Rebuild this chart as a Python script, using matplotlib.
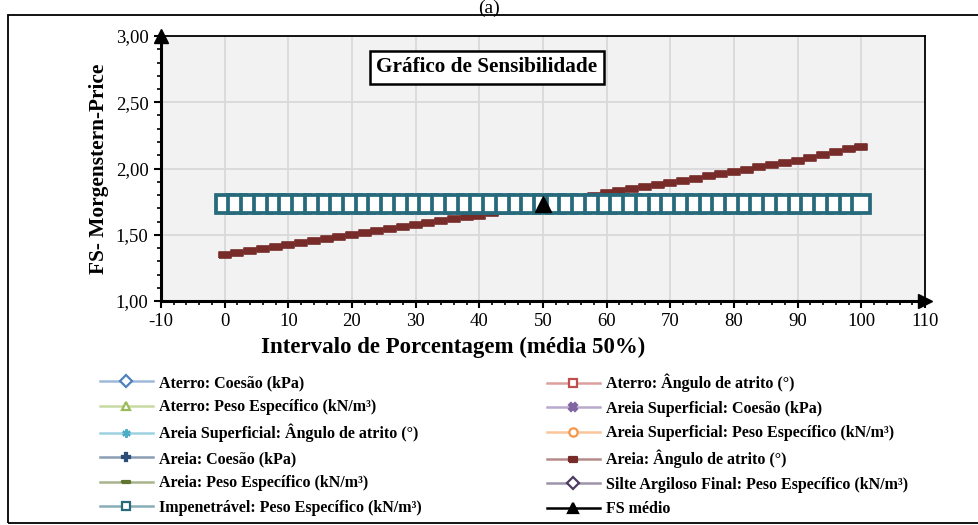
import matplotlib
matplotlib.use('Agg')
import matplotlib.pyplot as plt
from matplotlib.lines import Line2D
from matplotlib.patches import Rectangle

plt.rcParams['font.family'] = ['Liberation Serif', 'DejaVu Serif']
plt.rcParams['axes.unicode_minus'] = False

# x values: percentage interval, one point every 2 %
pct = list(range(0, 101, 2))

# FS for each parameter (most of them stay at the mean FS = 1,73)
aterro_coesao = [1.73] * 51
aterro_atrito = [1.73] * 51
aterro_peso = [1.73] * 51
areia_sup_coesao = [1.73] * 51
areia_sup_atrito = [1.685, 1.687, 1.689, 1.690, 1.692, 1.694, 1.696, 1.698, 1.699, 1.701,
                    1.703, 1.705, 1.707, 1.708, 1.710, 1.712, 1.714, 1.716, 1.717, 1.719,
                    1.721, 1.723, 1.725, 1.726, 1.728, 1.730, 1.732, 1.734, 1.735, 1.737,
                    1.739, 1.741, 1.743, 1.744, 1.746, 1.748, 1.750, 1.752, 1.753, 1.755,
                    1.757, 1.759, 1.761, 1.762, 1.764, 1.766, 1.768, 1.770, 1.771, 1.773,
                    1.775]
areia_sup_peso = [1.775, 1.773, 1.771, 1.770, 1.768, 1.766, 1.764, 1.762, 1.761, 1.759,
                  1.757, 1.755, 1.753, 1.752, 1.750, 1.748, 1.746, 1.744, 1.743, 1.741,
                  1.739, 1.737, 1.735, 1.734, 1.732, 1.730, 1.728, 1.726, 1.725, 1.723,
                  1.721, 1.719, 1.717, 1.716, 1.714, 1.712, 1.710, 1.708, 1.707, 1.705,
                  1.703, 1.701, 1.699, 1.698, 1.696, 1.694, 1.692, 1.690, 1.689, 1.687,
                  1.685]
areia_coesao = [1.73] * 51
areia_atrito = [1.347, 1.362, 1.376, 1.391, 1.405, 1.420, 1.436, 1.451, 1.467, 1.482,
                1.498, 1.513, 1.529, 1.544, 1.560, 1.575, 1.589, 1.603, 1.617, 1.631,
                1.645, 1.661, 1.677, 1.693, 1.709, 1.725, 1.743, 1.760, 1.778, 1.795,
                1.813, 1.828, 1.844, 1.859, 1.875, 1.890, 1.907, 1.924, 1.941, 1.958,
                1.975, 1.992, 2.009, 2.026, 2.043, 2.060, 2.081, 2.102, 2.123, 2.144,
                2.165]
areia_peso = [1.73] * 51
silte_peso = [1.73] * 51
impenetravel_peso = [1.73] * 51
fs_medio_x = [50]
fs_medio_y = [1.73]

labels = ['Aterro: Coesão (kPa)', 'Aterro: Ângulo de atrito (°)',
          'Aterro: Peso Específico (kN/m³)', 'Areia Superficial: Coesão (kPa)',
          'Areia Superficial: Ângulo de atrito (°)', 'Areia Superficial: Peso Específico (kN/m³)',
          'Areia: Coesão (kPa)', 'Areia: Ângulo de atrito (°)',
          'Areia: Peso Específico (kN/m³)', 'Silte Argiloso Final: Peso Específico (kN/m³)',
          'Impenetrável: Peso Específico (kN/m³)', 'FS médio']
series = [aterro_coesao, aterro_atrito, aterro_peso, areia_sup_coesao, areia_sup_atrito,
          areia_sup_peso, areia_coesao, areia_atrito, areia_peso, silte_peso, impenetravel_peso]

colors = ['#4F81BD', '#C0504D', '#9BBB59', '#8064A2', '#4BACC6', '#F79646',
          '#2C4D75', '#772C2A', '#5F7530', '#4D3B62', '#276A7C', '#000000']
dash = [(-1, -0.6), (1, -0.6), (1, 0.6), (-1, 0.6), (-1, -0.6)]
longdash = [(-1, -0.3), (1, -0.3), (1, 0.3), (-1, 0.3), (-1, -0.3)]
markers = ['D', 's', '^', 'X', (6, 2, 0), 'o', 'P', dash, longdash, 'D', 's', '^']
hollow = [True, True, True, False, False, True, False, False, False, True, True, False]

fig = plt.figure(figsize=(9.79, 5.25), dpi=100)
ax = fig.add_axes([161 / 979, 1 - 301 / 525, 764 / 979, 265 / 525])
ax.set_facecolor('#f2f2f2')

# series, drawn in the Excel order so Impenetrável ends on top
for i, vals in enumerate(series):
    face = 'white' if hollow[i] else colors[i]
    if i == 10:
        ax.plot(pct, vals, color=colors[i], lw=2.6, marker='s', ms=12.3, mew=2.7,
                mfc='white', mec=colors[i], zorder=5)
    elif i == 7:
        ax.plot(pct, vals, color=colors[i], lw=0, marker=dash, ms=8.0,
                mfc=colors[i], mec=colors[i], mew=1.2, zorder=4)
    else:
        ax.plot(pct, vals, color=colors[i], lw=1.0, marker=markers[i], ms=3.5,
                mfc=colors[i], mec=colors[i], mew=1.0, zorder=3 + i * 0.01)
ax.plot(fs_medio_x, fs_medio_y, color='black', marker='^', ms=12, ls='none', zorder=6)

ax.set_xlim(-10, 110)
ax.set_ylim(1, 3)
ax.set_xticks(range(-10, 111, 10))
ax.set_xticks(range(-10, 111, 2), minor=True)
ax.set_yticks([1.0, 1.5, 2.0, 2.5, 3.0])
ax.set_yticks([1 + k * 0.1 for k in range(21)], minor=True)
ax.set_yticklabels(['1,00', '1,50', '2,00', '2,50', '3,00'])
ax.grid(True, which='major', color='#d9d9d9', lw=1.3)
ax.set_axisbelow(True)
ax.tick_params(which='major', length=5, width=1.5, direction='out', labelsize=13.5, pad=4)
ax.tick_params(which='minor', length=3, width=1.2, direction='out')
for s in ['left', 'bottom']:
    ax.spines[s].set_linewidth(2.2)
for s in ['top', 'right']:
    ax.spines[s].set_linewidth(1.3)

# arrow heads on the axes
ax.plot([0], [1], transform=ax.transAxes, marker='^', ms=10, color='black', clip_on=False, zorder=7)
ax.plot([1], [0], transform=ax.transAxes, marker='>', ms=10, color='black', clip_on=False, zorder=7)

ax.set_ylabel('FS- Morgenstern-Price', fontsize=15.4, fontweight='bold', labelpad=5)
fig.text(453 / 979, 1 - 347 / 525, 'Intervalo de Porcentagem (média 50%)', ha='center', va='center',
         fontsize=16.5, fontweight='bold')

ax.text(0.4267, 0.882, 'Gráfico de Sensibilidade', transform=ax.transAxes, ha='center', va='center',
        fontsize=15.3, fontweight='bold',
        bbox=dict(boxstyle='square,pad=0.3', fc='white', ec='black', lw=1.8), zorder=8)

fig.text(0.5, 1.0, '(a)', ha='center', va='top', fontsize=14)
fig.patches.append(Rectangle((8 / 979, 2 / 525), 1, 1 - 17 / 525, transform=fig.transFigure,
                             fill=False, ec='black', lw=1.3))

# legend, two columns like the Excel one
handles = []
for i in range(12):
    r, g, b = matplotlib.colors.to_rgb(colors[i])
    line_col = (r, g, b, 1.0) if i == 11 else (r, g, b, 0.55)
    face = 'white' if hollow[i] else colors[i]
    ms = 6 if i != 11 else 7
    handles.append(Line2D([], [], color=line_col, lw=1.8, marker=markers[i], ms=ms,
                          mfc=face, mec=colors[i], mew=1.6))

leg_kw = dict(frameon=False, loc='upper left', handlelength=3.3, handletextpad=0.4,
              labelspacing=0.53, borderpad=0, borderaxespad=0,
              prop={'weight': 'bold', 'size': 11.5})
fig.legend([handles[k] for k in range(0, 12, 2)], [labels[k] for k in range(0, 12, 2)],
           bbox_to_anchor=(100 / 979, 1 - 375 / 525), **leg_kw)
fig.legend([handles[k] for k in range(1, 12, 2)], [labels[k] for k in range(1, 12, 2)],
           bbox_to_anchor=(547 / 979, 1 - 374 / 525), **leg_kw)

fig.savefig('out.png', dpi=100)
